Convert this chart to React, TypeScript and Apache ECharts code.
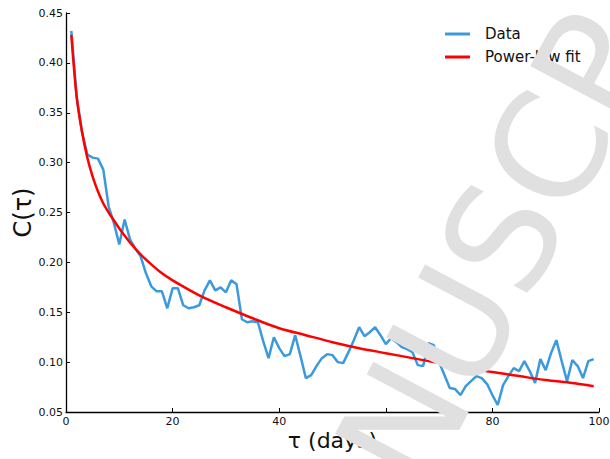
import React, { useEffect, useRef } from "react";
import * as echarts from "echarts";

// Observed autocorrelation C(tau), tau = 1..99 days
const days: number[] = Array.from({ length: 99 }, (_, i) => i + 1);
const dataValues: number[] = [
  0.432, 0.366, 0.331, 0.308, 0.305, 0.304, 0.293, 0.256, 0.239, 0.218,
  0.243, 0.223, 0.214, 0.206, 0.189, 0.176, 0.171, 0.171, 0.154, 0.174,
  0.174, 0.157, 0.154, 0.155, 0.157, 0.172, 0.182, 0.172, 0.175, 0.170,
  0.182, 0.178, 0.143, 0.140, 0.141, 0.140, 0.121, 0.104, 0.125, 0.114,
  0.106, 0.108, 0.127, 0.106, 0.084, 0.087, 0.096, 0.104, 0.108, 0.107,
  0.100, 0.099, 0.110, 0.122, 0.135, 0.126, 0.130, 0.135, 0.127, 0.118,
  0.124, 0.120, 0.115, 0.113, 0.110, 0.097, 0.096, 0.119, 0.117, 0.100,
  0.087, 0.074, 0.073, 0.067, 0.076, 0.081, 0.086, 0.084, 0.078, 0.067,
  0.057, 0.077, 0.086, 0.094, 0.091, 0.101, 0.091, 0.079, 0.103, 0.092,
  0.109, 0.122, 0.101, 0.081, 0.102, 0.096, 0.084, 0.101, 0.103,
];

// Power-law fit, read at sample days
const fitDays: number[] = [
  1, 2, 3, 4, 5, 6, 7, 8, 9, 10, 12, 14, 16, 18, 20, 25, 30, 35, 40, 45,
  50, 55, 60, 65, 70, 75, 80, 85, 90, 95, 99,
];
const fitValues: number[] = [
  0.428, 0.366, 0.331, 0.305, 0.286, 0.271, 0.259, 0.25, 0.242, 0.234,
  0.22, 0.208, 0.198, 0.189, 0.182, 0.167, 0.155, 0.144, 0.134, 0.127,
  0.12, 0.114, 0.109, 0.104, 0.099, 0.094, 0.09, 0.086, 0.082, 0.079, 0.0758,
];

const xTicks = { min: 0, max: 100, step: 20 };
const yTicks = { min: 0.05, max: 0.45, step: 0.05 };

const seriesNames = ["Data", "Power-law fit"];
const watermarkText = "NUSCP";

const FONT = "DejaVu Sans";

export default function App() {
  const ref = useRef<HTMLDivElement>(null);

  useEffect(() => {
    if (!ref.current) return;
    const chart = echarts.init(ref.current, undefined, { renderer: "svg" });
    chart.setOption({
      animation: false,
      backgroundColor: "#ffffff",
      grid: {
        left: 66,
        right: 11,
        top: 13,
        bottom: 47,
        containLabel: false,
        outerBoundsMode: "none",
      },
      legend: {
        orient: "vertical",
        left: 440,
        top: 20,
        itemWidth: 25,
        itemHeight: 3,
        itemGap: 5,
        icon: "rect",
        textStyle: {
          fontFamily: FONT,
          fontSize: 15,
          color: "#111",
          lineHeight: 18,
          padding: [0, 0, 0, 10],
        },
        data: seriesNames,
      },
      xAxis: {
        type: "value",
        min: xTicks.min,
        max: xTicks.max,
        interval: xTicks.step,
        name: "τ (days)",
        nameLocation: "middle",
        nameGap: 17,
        nameMoveOverlap: false,
        nameTextStyle: { fontFamily: FONT, fontSize: 22, color: "#111" },
        axisLine: { show: true, onZero: false, lineStyle: { color: "#000", width: 1.3 } },
        axisTick: { show: true, inside: true, length: 4, lineStyle: { color: "#000" } },
        axisLabel: { fontFamily: FONT, fontSize: 11, color: "#111", margin: 4 },
        splitLine: { show: false },
      },
      yAxis: {
        type: "value",
        min: yTicks.min,
        max: yTicks.max,
        interval: yTicks.step,
        name: "C(τ)",
        nameLocation: "middle",
        nameGap: 31,
        nameMoveOverlap: false,
        nameTextStyle: { fontFamily: FONT, fontSize: 24, color: "#111" },
        axisLine: { show: true, onZero: false, lineStyle: { color: "#000", width: 1.3 } },
        axisTick: { show: true, inside: true, length: 4, lineStyle: { color: "#000" } },
        axisLabel: {
          fontFamily: FONT,
          fontSize: 11,
          color: "#111",
          margin: 3,
          formatter: (v: number) => v.toFixed(2),
        },
        splitLine: { show: false },
      },
      series: [
        {
          name: seriesNames[0],
          type: "line",
          data: days.map((d, i) => [d, dataValues[i]]),
          showSymbol: false,
          lineStyle: { color: "#3b9ade", width: 2.5 },
          itemStyle: { color: "#3b9ade" },
          z: 2,
        },
        {
          name: seriesNames[1],
          type: "line",
          data: fitDays.map((d, i) => [d, fitValues[i]]),
          showSymbol: false,
          smooth: 0.3,
          lineStyle: { color: "#ff0000", width: 2.5 },
          itemStyle: { color: "#ff0000" },
          z: 3,
        },
      ],
      graphic: [
        {
          type: "text",
          x: 497,
          y: 250,
          rotation: (62 * Math.PI) / 180,
          z: 100,
          silent: true,
          style: {
            text: watermarkText,
            fontFamily: FONT,
            fontSize: 148,
            fill: "#e0e0e0",
            textAlign: "center",
            textVerticalAlign: "middle",
          },
        },
      ],
    });
    return () => chart.dispose();
  }, []);

  return (
    <div
      ref={ref}
      style={{ position: "fixed", left: 0, top: 0, width: 610, height: 459 }}
    />
  );
}
